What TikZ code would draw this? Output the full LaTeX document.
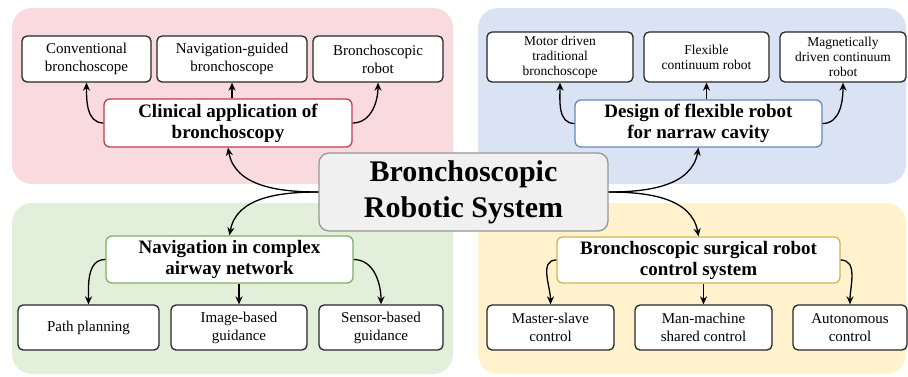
\documentclass[tikz,border=0pt]{standalone}
\usepackage{fontspec}
\setmainfont{Liberation Serif}
\usetikzlibrary{arrows.meta}

\definecolor{pinkbg}{RGB}{249,218,222}
\definecolor{bluebg}{RGB}{218,227,243}
\definecolor{greenbg}{RGB}{226,239,218}
\definecolor{yellowbg}{RGB}{255,242,204}
\definecolor{pinkline}{RGB}{190,62,82}
\definecolor{blueline}{RGB}{100,136,190}
\definecolor{greenline}{RGB}{128,176,100}
\definecolor{yellowline}{RGB}{212,180,80}
\definecolor{centerfill}{RGB}{240,240,240}
\definecolor{centerline}{RGB}{150,150,150}

\begin{document}
\begin{tikzpicture}[x=1pt,y=-1pt,
  panel/.style={rounded corners=20pt},
  leaf/.style={draw=black!85, line width=1.3pt, rounded corners=5pt, fill=white,
    align=center, inner sep=0pt, font=\fontsize{15}{18}\selectfont},
  smallleaf/.style={leaf, font=\fontsize{13.5}{15}\selectfont},
  hub/.style={line width=1.3pt, rounded corners=6pt, fill=white, align=center,
    inner sep=0pt, font=\fontsize{19}{21}\selectfont\bfseries},
  core/.style={draw=centerline, fill=centerfill, line width=1.3pt, rounded corners=10pt,
    align=center, inner sep=0pt, font=\fontsize{30}{36}\selectfont\bfseries},
  link/.style={-{Stealth[length=8pt,width=7pt]}, line width=1.3pt}]

\useasboundingbox (0,0) rectangle (908,376);

% quadrant backgrounds
\fill[pinkbg, panel]   (12,8)    rectangle (453,184);
\fill[bluebg, panel]   (478,8)   rectangle (906,184);
\fill[greenbg, panel]  (12,203)  rectangle (453,374);
\fill[yellowbg, panel] (478,203) rectangle (906,374);

% central node
\node[core, minimum width=289pt, minimum height=78pt] (core) at (463.5,192)
  {Bronchoscopic\\Robotic System};

% clinical application branch
\node[hub, draw=pinkline, minimum width=248pt, minimum height=48pt] (clin) at (228,123)
  {Clinical application of\\bronchoscopy};
\node[leaf, minimum width=129pt, minimum height=46pt] (conv) at (86.5,59)
  {Conventional\\bronchoscope};
\node[leaf, minimum width=150pt, minimum height=46pt] (navg) at (232,59)
  {Navigation-guided\\bronchoscope};
\node[leaf, minimum width=130pt, minimum height=46pt] (brob) at (378,59)
  {Bronchoscopic\\robot};

% flexible robot design branch
\node[hub, draw=blueline, minimum width=247pt, minimum height=47pt] (design) at (698.5,123.5)
  {Design of flexible robot\\for narraw cavity};
\node[smallleaf, minimum width=146pt, minimum height=50pt] (motor) at (560,57)
  {Motor driven\\traditional\\bronchoscope};
\node[smallleaf, minimum width=125pt, minimum height=50pt] (flex) at (706.5,57)
  {Flexible\\continuum robot};
\node[smallleaf, minimum width=126pt, minimum height=50pt] (magn) at (843,57)
  {Magnetically\\driven continuum\\robot};

% navigation branch
\node[hub, draw=greenline, minimum width=247pt, minimum height=47pt] (nav) at (229.5,259.5)
  {Navigation in complex\\airway network};
\node[leaf, minimum width=141pt, minimum height=45pt] (path) at (88.5,327.5)
  {Path planning};
\node[leaf, minimum width=136pt, minimum height=45pt] (image) at (239,327.5)
  {Image-based\\guidance};
\node[leaf, minimum width=124pt, minimum height=45pt] (sensor) at (381,327.5)
  {Sensor-based\\guidance};

% control system branch
\node[hub, draw=yellowline, minimum width=283pt, minimum height=46pt] (ctrl) at (698.5,260)
  {Bronchoscopic surgical robot\\control system};
\node[leaf, minimum width=127pt, minimum height=45pt] (master) at (550.5,327.5)
  {Master-slave\\control};
\node[leaf, minimum width=137pt, minimum height=45pt] (manm) at (703.5,327.5)
  {Man-machine\\shared control};
\node[leaf, minimum width=114pt, minimum height=45pt] (auto) at (850,327.5)
  {Autonomous\\control};

% connectors from the central node
\draw[link] (core.west) to[out=180,in=-80] (clin.south);
\draw[link] (core.west) to[out=180,in=80] (nav.north);
\draw[link] (core.east) to[out=0,in=-100] (design.south);
\draw[link] (core.east) to[out=0,in=100] (ctrl.north);

% upper branches
\draw[link] (clin.west) to[out=180,in=-90] (conv.south);
\draw[link] (navg.south |- clin.north) -- (navg.south);
\draw[link] (clin.east) to[out=0,in=-90] (brob.south);
\draw[link] (design.west) to[out=180,in=-90] (motor.south);
\draw[link] (flex.south |- design.north) -- (flex.south);
\draw[link] (design.east) to[out=0,in=-90] (magn.south);

% lower branches
\draw[link] (nav.west) to[out=180,in=90] (path.north);
\draw[link] (image.north |- nav.south) -- (image.north);
\draw[link] (nav.east) to[out=0,in=90] (sensor.north);
\draw[link] (ctrl.west) to[out=180,in=90] (master.north);
\draw[link] (manm.north |- ctrl.south) -- (manm.north);
\draw[link] (ctrl.east) to[out=0,in=90] (auto.north);
\end{tikzpicture}
\end{document}
